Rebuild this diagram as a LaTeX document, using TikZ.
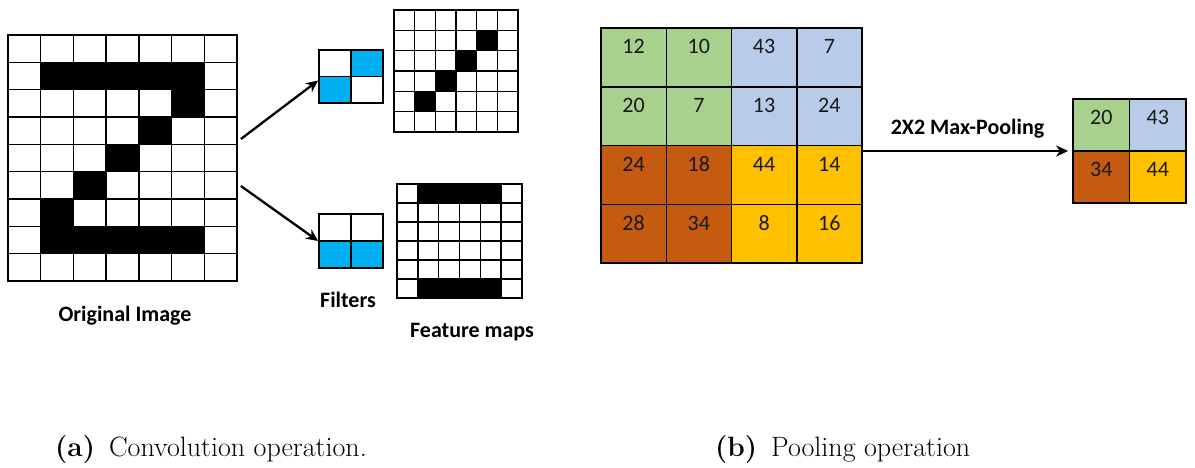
\documentclass[tikz,border=0pt]{standalone}
\usepackage{fontspec}
\newfontfamily\calibri{Carlito}
\usepackage{tikz}
\usetikzlibrary{arrows.meta, positioning}
\definecolor{fltcyan}{HTML}{00B0F0}
\definecolor{poolgreen}{HTML}{A9D18E}
\definecolor{poolblue}{HTML}{B8CCEA}
\definecolor{poolrust}{HTML}{C55A11}
\definecolor{poolgold}{HTML}{FFC000}

\begin{document}
\begin{tikzpicture}[x=1pt, y=-1pt,
frame/.style={rectangle, draw, line width=1.8pt, inner sep=0pt}, cell/.style={line width=1.5pt},
arr/.style={-{Stealth[length=12pt, width=11pt]}, line width=2.3pt},
lbl/.style={font=\calibri\bfseries\fontsize{22}{26}\selectfont, inner sep=0pt},
num/.style={font=\calibri\fontsize{22}{26}\selectfont, text=black!90, inner sep=0pt},
subcap/.style={font=\fontsize{28}{32}\selectfont, anchor=base west, inner sep=0pt} ]
\useasboundingbox (0,0) rectangle (1195,467);

% original image, 7x9 cells
\begin{scope}[shift={(8,35)}, x=32.71pt, y=-27.33pt]
  \foreach \c/\r in {1/1,2/1,3/1,4/1,5/1,5/2,4/3,3/4,2/5,1/6,1/7,2/7,3/7,4/7,5/7}
    \fill (\c,\r) rectangle ++(1,1);
  \foreach \c in {1,...,6} \draw[cell] (\c,0) -- (\c,9);
  \foreach \r in {1,...,8} \draw[cell] (0,\r) -- (7,\r);
\end{scope}
\node[frame, minimum width=229pt, minimum height=246pt] (orig) at (122.5,158) {};
\node[lbl] (origlbl) at (125,316) {Original Image};

% the two 2x2 filters
\begin{scope}[shift={(319,50)}, x=32pt, y=-26.5pt]
  \fill[fltcyan] (1,0) rectangle ++(1,1) (0,1) rectangle ++(1,1);
  \draw[cell] (1,0) -- (1,2) (0,1) -- (2,1);
\end{scope}
\node[frame, minimum width=64pt, minimum height=53pt] (filtA) at (351,76.5) {};
\begin{scope}[shift={(319,214)}, x=32pt, y=-27pt]
  \fill[fltcyan] (0,1) rectangle (2,2);
  \draw[cell] (1,0) -- (1,2) (0,1) -- (2,1);
\end{scope}
\node[frame, minimum width=64pt, minimum height=54pt] (filtB) at (351,241) {};
\node[lbl] (filtlbl) at (348,300) {Filters};

% feature maps, 6x6
\begin{scope}[shift={(394,10)}, x=20.67pt, y=-20.33pt]
  \foreach \c/\r in {4/1,3/2,2/3,1/4} \fill (\c,\r) rectangle ++(1,1);
  \foreach \i in {1,...,5} \draw[cell] (\i,0) -- (\i,6) (0,\i) -- (6,\i);
\end{scope}
\node[frame, minimum width=124pt, minimum height=122pt] (fmapA) at (456,71) {};
\begin{scope}[shift={(397,184)}, x=20.83pt, y=-19pt]
  \fill (1,0) rectangle (5,1) (1,5) rectangle (5,6);
  \foreach \i in {1,...,5} \draw[cell] (\i,0) -- (\i,6) (0,\i) -- (6,\i);
\end{scope}
\node[frame, minimum width=125pt, minimum height=114pt] (fmapB) at (459.5,241) {};
\node[lbl, anchor=west] (fmaplbl) at (410,332) {Feature maps};

\draw[arr] ([shift={(3pt,19pt)}]orig.east) -- ([yshift=-4pt]filtA.west);
\draw[arr] ([shift={(3pt,-28pt)}]orig.east) -- (filtB.west);

% 4x4 input of the pooling step
\begin{scope}[shift={(601,28)}, x=65.25pt, y=-58.75pt]
  \fill[poolgreen] (0,0) rectangle (2,2);
  \fill[poolblue] (2,0) rectangle (4,2);
  \fill[poolrust] (0,2) rectangle (2,4);
  \fill[poolgold] (2,2) rectangle (4,4);
  \foreach \i in {1,2,3} \draw[cell] (\i,0) -- (\i,4) (0,\i) -- (4,\i);
  \foreach \v [count=\i from 0] in {12,10,43,7,20,7,13,24,24,18,44,14,28,34,8,16}
    \node[num] at ({mod(\i,4)+0.5},{int(\i/4)+0.32}) {\v};
\end{scope}
\node[frame, minimum width=261pt, minimum height=235pt] (pool) at (731.5,145.5) {};

% 2x2 result
\begin{scope}[shift={(1073,99)}, x=56.5pt, y=-52pt]
  \fill[poolgreen] (0,0) rectangle (1,1);
  \fill[poolblue] (1,0) rectangle (2,1);
  \fill[poolrust] (0,1) rectangle (1,2);
  \fill[poolgold] (1,1) rectangle (2,2);
  \draw[cell] (1,0) -- (1,2) (0,1) -- (2,1);
  \foreach \v/\c/\r in {20/0/0,43/1/0,34/0/1,44/1/1}
    \node[num] at (\c+0.5,\r+0.35) {\v};
\end{scope}
\node[frame, minimum width=113pt, minimum height=104pt] (out) at (1129.5,151) {};

\draw[arr, shorten >=4pt] (pool.east |- out.west) -- node[lbl, above=12pt]{2X2 Max-Pooling} (out.west);

\node[subcap] (capa) at (55,456) {\textbf{(a)}\enspace Convolution operation.};
\node[subcap] (capb) at (715,456) {\textbf{(b)}\enspace Pooling operation};
\end{tikzpicture}
\end{document}
